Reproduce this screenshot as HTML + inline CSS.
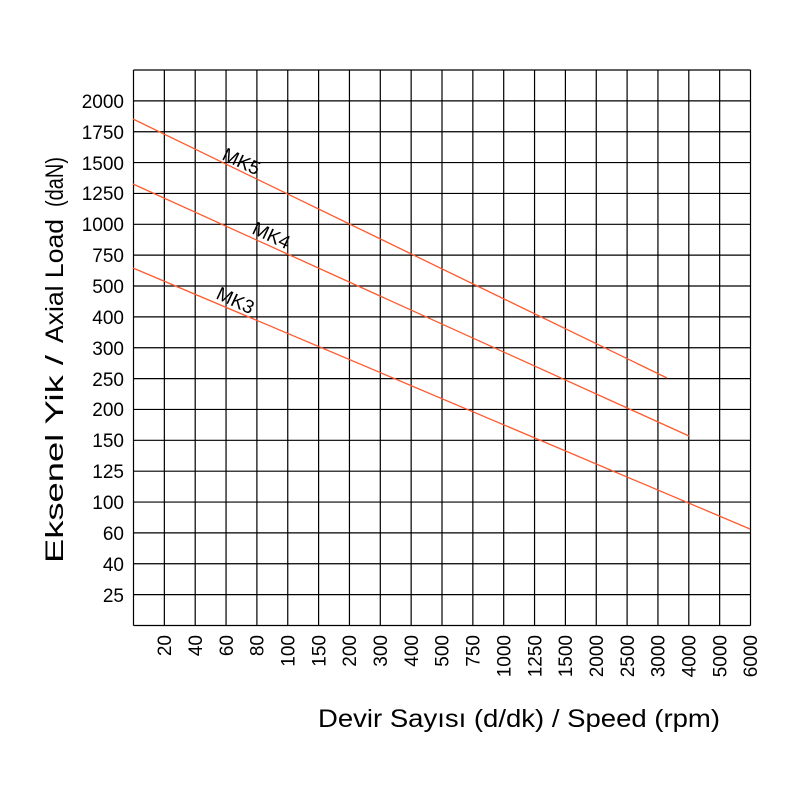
<!DOCTYPE html>
<html><head><style>body{margin:0;background:#fff}</style></head><body>
<svg width="800" height="800" xmlns="http://www.w3.org/2000/svg" font-family="Liberation Sans, sans-serif">
<rect width="800" height="800" fill="#fff"/>
<path stroke="#000" stroke-width="1.2" fill="none" d="M133.5 70V625.5M164.35 70V625.5M195.2 70V625.5M226.05 70V625.5M256.9 70V625.5M287.75 70V625.5M318.6 70V625.5M349.45 70V625.5M380.3 70V625.5M411.15 70V625.5M442 70V625.5M472.85 70V625.5M503.7 70V625.5M534.55 70V625.5M565.4 70V625.5M596.25 70V625.5M627.1 70V625.5M657.95 70V625.5M688.8 70V625.5M719.65 70V625.5M750.5 70V625.5
M133.5 70H750.5M133.5 100.86H750.5M133.5 131.72H750.5M133.5 162.58H750.5M133.5 193.44H750.5M133.5 224.3H750.5M133.5 255.16H750.5M133.5 286.02H750.5M133.5 316.88H750.5M133.5 347.74H750.5M133.5 378.6H750.5M133.5 409.46H750.5M133.5 440.32H750.5M133.5 471.18H750.5M133.5 502.04H750.5M133.5 532.9H750.5M133.5 563.76H750.5M133.5 594.62H750.5M133.5 625.48H750.5"/>
<g font-size="19" text-anchor="end" fill="#000">
<text x="124" y="108">2000</text><text x="124" y="139">1750</text><text x="124" y="170">1500</text><text x="124" y="200">1250</text><text x="124" y="231">1000</text><text x="124" y="262">750</text><text x="124" y="293">500</text><text x="124" y="324">400</text><text x="124" y="355">300</text><text x="124" y="386">250</text><text x="124" y="416">200</text><text x="124" y="447">150</text><text x="124" y="478">125</text><text x="124" y="509">100</text><text x="124" y="540">60</text><text x="124" y="571">40</text><text x="124" y="602">25</text>
</g>
<g font-size="19" text-anchor="end" fill="#000">
<text transform="translate(171,635) rotate(-90)">20</text>
<text transform="translate(201.9,635) rotate(-90)">40</text>
<text transform="translate(232.8,635) rotate(-90)">60</text>
<text transform="translate(263.6,635) rotate(-90)">80</text>
<text transform="translate(294.5,635) rotate(-90)">100</text>
<text transform="translate(325.3,635) rotate(-90)">150</text>
<text transform="translate(356.2,635) rotate(-90)">200</text>
<text transform="translate(387,635) rotate(-90)">300</text>
<text transform="translate(417.9,635) rotate(-90)">400</text>
<text transform="translate(448.7,635) rotate(-90)">500</text>
<text transform="translate(479.6,635) rotate(-90)">750</text>
<text transform="translate(510.4,635) rotate(-90)">1000</text>
<text transform="translate(541.3,635) rotate(-90)">1250</text>
<text transform="translate(572.1,635) rotate(-90)">1500</text>
<text transform="translate(603,635) rotate(-90)">2000</text>
<text transform="translate(633.8,635) rotate(-90)">2500</text>
<text transform="translate(664.7,635) rotate(-90)">3000</text>
<text transform="translate(695.5,635) rotate(-90)">4000</text>
<text transform="translate(726.4,635) rotate(-90)">5000</text>
<text transform="translate(757.2,635) rotate(-90)">6000</text>
</g>
<g stroke="#ff5a2e" stroke-width="1.3" fill="none">
<line x1="133" y1="119" x2="667" y2="378"/>
<line x1="133" y1="184" x2="689" y2="436"/>
<line x1="133" y1="268" x2="750" y2="529"/>
</g>
<g font-size="19" fill="#000">
<text transform="translate(221,159) rotate(25)">MK5</text>
<text transform="translate(251,233) rotate(25)">MK4</text>
<text transform="translate(215,298) rotate(25)">MK3</text>
</g>
<g font-size="25" fill="#000">
<text transform="translate(63,563) rotate(-90)" textLength="208" lengthAdjust="spacingAndGlyphs">Eksenel Yik /</text>
<text transform="translate(63,343) rotate(-90)" textLength="124" lengthAdjust="spacingAndGlyphs">Axial Load</text>
<text transform="translate(63,207) rotate(-90)" textLength="50" lengthAdjust="spacingAndGlyphs">(daN)</text>
<text x="318" y="727" textLength="402" lengthAdjust="spacingAndGlyphs">Devir Sayısı (d/dk) / Speed (rpm)</text>
</g>
</svg>
</body></html>
